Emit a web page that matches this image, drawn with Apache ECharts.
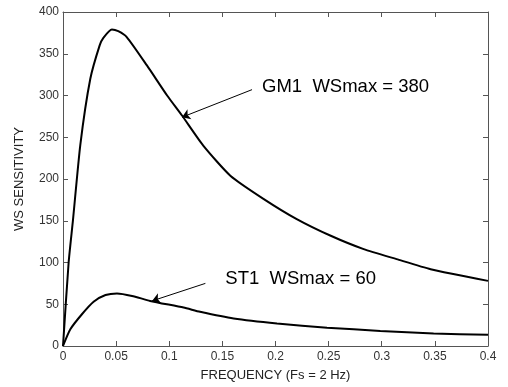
<!DOCTYPE html>
<html><head><meta charset="utf-8">
<script src="https://cdn.jsdelivr.net/npm/echarts@6/dist/echarts.min.js"></script>
<style>html,body{margin:0;padding:0;background:#fff}#c{width:508px;height:387px}</style>
</head><body><div id="c"></div>
<script>
const xTicks = [0, 0.05, 0.1, 0.15, 0.2, 0.25, 0.3, 0.35, 0.4];
const yTicks = [0, 50, 100, 150, 200, 250, 300, 350, 400];

const freqGM1 = [0, 0.0053, 0.0094, 0.0163, 0.0257, 0.0345, 0.038, 0.046, 0.052, 0.060, 0.079, 0.098, 0.112, 0.132, 0.1575, 0.189, 0.220, 0.252, 0.283, 0.314, 0.346, 0.4];
const valGM1  = [0, 100, 151, 241, 320, 360, 369, 379, 377, 370, 336, 300, 276, 240, 204, 176, 152, 132, 116, 104, 92, 78];

const freqST1 = [0, 0.0069, 0.0178, 0.0288, 0.040, 0.0508, 0.065, 0.082, 0.1135, 0.129, 0.1606, 0.2014, 0.2485, 0.2986, 0.3488, 0.4];
const valST1  = [0, 20, 38, 53, 61, 63, 60, 54, 46, 41, 33, 27, 22, 18, 15, 13.5];

const labelGM1 = 'GM1  WSmax = 380';
const labelST1 = 'ST1  WSmax = 60';
const labelPosGM1 = [0.1873, 310];
const labelPosST1 = [0.1528, 80];
const arrowGM1 = [[0.1779, 307], [0.112, 274]];
const arrowST1 = [[0.134, 75], [0.0838, 54]];

const pairs = (xs, ys) => xs.map((x, i) => [x, ys[i]]);
const font = 'Liberation Sans, Arial, sans-serif';
const axisCol = '#555';

function annot(pos, text, arrow) {
  return {
    markPoint: {
      symbol: 'circle', symbolSize: 0, animation: false,
      label: { show: true, position: 'right', distance: 0, formatter: text, color: '#000', fontSize: 18.5, fontFamily: font },
      data: [{ coord: pos }]
    },
    markLine: {
      symbol: ['none', 'arrow'], symbolSize: 8, animation: false, silent: true,
      label: { show: false },
      lineStyle: { color: '#000', width: 1, type: 'solid' },
      itemStyle: { color: '#000' },
      data: [[{ coord: arrow[0] }, { coord: arrow[1] }]]
    }
  };
}

const baseAxis = {
  axisLine: { show: true, onZero: false, lineStyle: { color: axisCol, width: 1 } },
  axisTick: { show: true, inside: true, length: 5, lineStyle: { color: axisCol } },
  splitLine: { show: false }
};

const chart = echarts.init(document.getElementById('c'));
chart.setOption({
  animation: false,
  backgroundColor: '#fff',
  grid: { left: 63, right: 20, top: 12, bottom: 40 },
  xAxis: [Object.assign({
    type: 'value', min: 0, max: 0.4, interval: 0.05, position: 'bottom',
    name: 'FREQUENCY (Fs = 2 Hz)', nameLocation: 'middle', nameGap: 23,
    nameTextStyle: { color: '#222', fontSize: 13, fontFamily: font },
    axisLabel: { color: '#333', fontSize: 12, fontFamily: font, margin: 5,
      formatter: v => String(xTicks.find(t => Math.abs(t - v) < 1e-9) ?? v) }
  }, baseAxis), Object.assign({
    type: 'value', min: 0, max: 0.4, interval: 0.05, position: 'top',
    axisLabel: { show: false }
  }, baseAxis)],
  yAxis: [Object.assign({
    type: 'value', min: 0, max: 400, interval: 50, position: 'left',
    name: 'WS SENSITIVITY', nameLocation: 'middle', nameGap: 37,
    nameTextStyle: { color: '#222', fontSize: 13, fontFamily: font },
    axisLabel: { color: '#333', fontSize: 12, fontFamily: font, margin: 4,
      formatter: v => String(yTicks.find(t => t === v) ?? v) }
  }, baseAxis), Object.assign({
    type: 'value', min: 0, max: 400, interval: 50, position: 'right',
    axisLabel: { show: false }
  }, baseAxis)],
  series: [
    Object.assign({
      type: 'line', data: pairs(freqGM1, valGM1), showSymbol: false, smooth: 0.2,
      lineStyle: { color: '#000', width: 2 }, itemStyle: { color: '#000' }
    }, annot(labelPosGM1, labelGM1, arrowGM1)),
    Object.assign({
      type: 'line', data: pairs(freqST1, valST1), showSymbol: false, smooth: 0.2,
      lineStyle: { color: '#000', width: 2 }, itemStyle: { color: '#000' }
    }, annot(labelPosST1, labelST1, arrowST1))
  ]
});
</script></body></html>
